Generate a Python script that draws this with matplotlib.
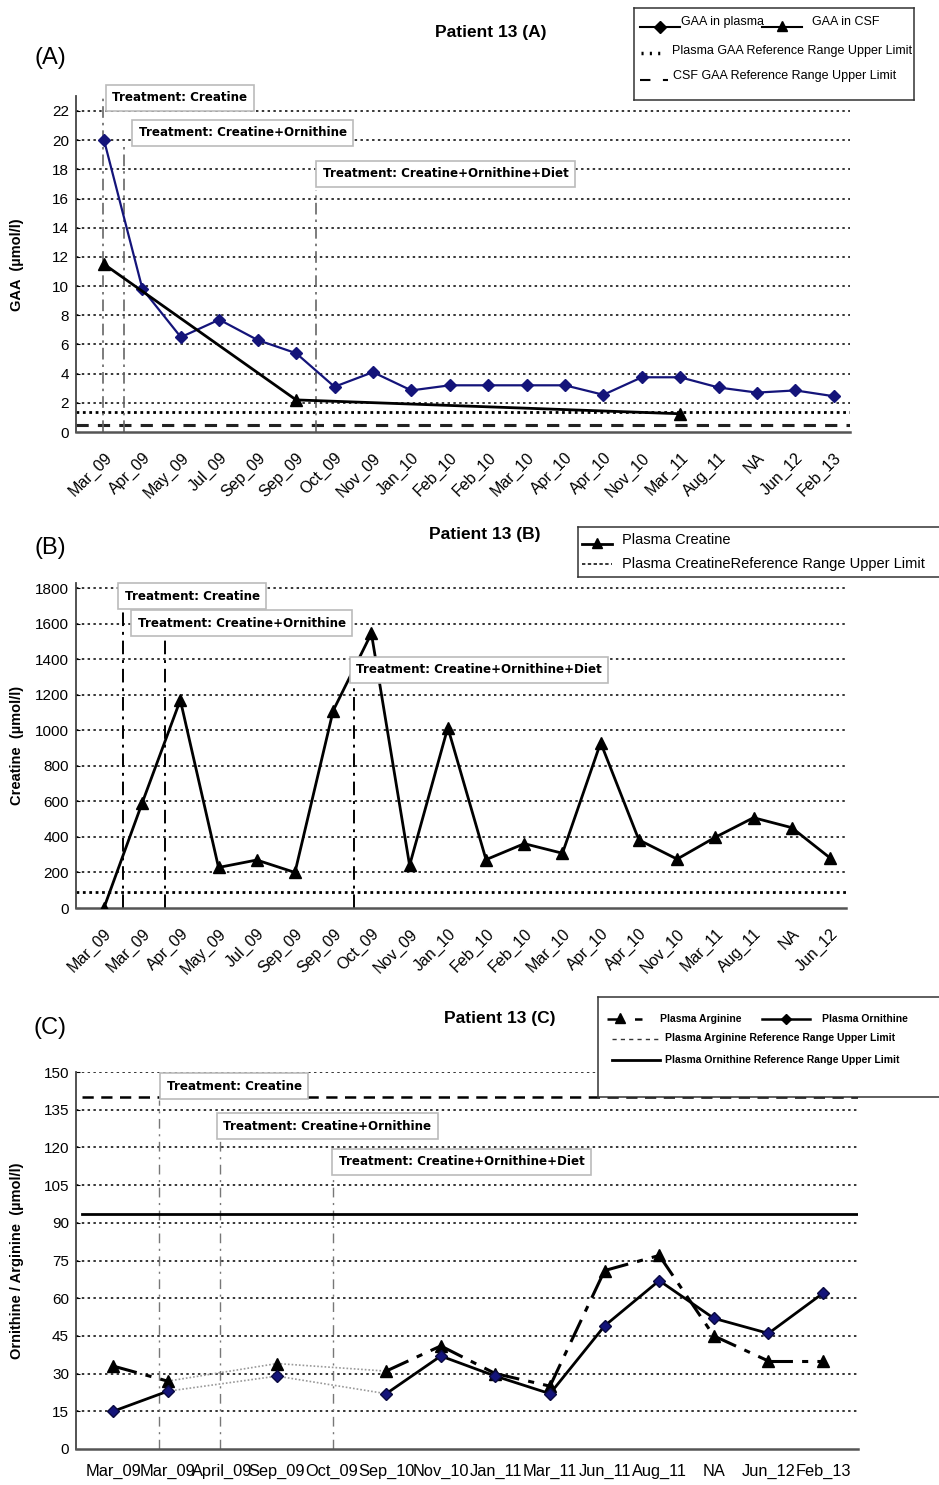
import numpy as np
import matplotlib.pyplot as plt

plt.rcParams['font.family'] = ['Liberation Sans', 'DejaVu Sans']

# ---- data -------------------------------------------------------------
a_labels = ['Mar_09', 'Apr_09', 'May_09', 'Jul_09', 'Sep_09', 'Sep_09', 'Oct_09',
            'Nov_09', 'Jan_10', 'Feb_10', 'Feb_10', 'Mar_10', 'Apr_10', 'Apr_10',
            'Nov_10', 'Mar_11', 'Aug_11', 'NA', 'Jun_12', 'Feb_13']
gaa_plasma = [20.0, 9.8, 6.5, 7.7, 6.3, 5.4, 3.1, 4.1, 2.85, 3.2, 3.2, 3.2, 3.2,
              2.55, 3.75, 3.75, 3.05, 2.7, 2.85, 2.45]
gaa_csf = [11.5, np.nan, np.nan, np.nan, np.nan, 2.2, np.nan, np.nan, np.nan, np.nan,
           np.nan, np.nan, np.nan, np.nan, np.nan, 1.25, np.nan, np.nan, np.nan, np.nan]
gaa_plasma_ref = 1.4
gaa_csf_ref = 0.45

b_labels = ['Mar_09', 'Mar_09', 'Apr_09', 'May_09', 'Jul_09', 'Sep_09', 'Sep_09',
            'Oct_09', 'Nov_09', 'Jan_10', 'Feb_10', 'Feb_10', 'Mar_10', 'Apr_10',
            'Apr_10', 'Nov_10', 'Mar_11', 'Aug_11', 'NA', 'Jun_12']
creatine = [0, 590, 1170, 228, 270, 200, 1110, 1545, 240, 1015, 272, 362, 308,
            930, 383, 275, 398, 508, 452, 282]
creatine_ref = 90

c_labels = ['Mar_09', 'Mar_09', 'April_09', 'Sep_09', 'Oct_09', 'Sep_10', 'Nov_10',
            'Jan_11', 'Mar_11', 'Jun_11', 'Aug_11', 'NA', 'Jun_12', 'Feb_13']
ornithine = [15, 23, np.nan, 29, np.nan, 22, 37, 29, 22, 49, 67, 52, 46, 62]
arginine = [33, 27, np.nan, 34, np.nan, 31, 41, 30, 25, 71, 77, 45, 35, 35]
arginine_ref = 140
ornithine_ref = 93.5

treatments = ['Treatment: Creatine', 'Treatment: Creatine+Ornithine',
              'Treatment: Creatine+Ornithine+Diet']

# ---- layout helpers ----------------------------------------------------
W, H = 939, 1485
fig = plt.figure(figsize=(W / 100, H / 100), dpi=100)


def px_axes(left, top, right, bottom):
    return fig.add_axes([left / W, 1 - bottom / H, (right - left) / W, (bottom - top) / H])


def style_axes(ax, yticks, ylim, xlim, labels, rotate, ylabel):
    ax.set_ylim(*ylim)
    ax.set_xlim(*xlim)
    ax.set_yticks(yticks)
    ax.set_xticks(range(len(labels)))
    for s in ['top', 'right']:
        ax.spines[s].set_visible(False)
    ax.spines['left'].set_color('#444444')
    ax.spines['bottom'].set_color('#555555')
    ax.spines['left'].set_linewidth(1.3)
    ax.spines['bottom'].set_linewidth(1.8)
    ax.tick_params(axis='y', direction='in', length=3, labelsize=11, pad=5)
    ax.tick_params(axis='x', length=0)
    if rotate:
        ax.set_xticklabels(labels, rotation=45, ha='right', va='top',
                           rotation_mode='anchor', fontsize=11.5)
        ax.tick_params(axis='x', pad=13)
    else:
        ax.set_xticklabels(labels, fontsize=11.8)
        ax.tick_params(axis='x', pad=11)
    for y in yticks[1:]:
        ax.axhline(y, color='black', lw=1.1, ls=(0, (1.6, 2.2)), zorder=1)
    w_px = ax.get_position().width * W
    ax.set_ylabel(ylabel, fontsize=10.5, fontweight='bold')
    ax.yaxis.set_label_coords(-52 / w_px, 0.5)


def plot_gapped(ax, x, y, main_kw, gap_kw):
    x = np.asarray(x, dtype=float)
    y = np.asarray(y, dtype=float)
    ok = ~np.isnan(y)
    xv, yv = x[ok], y[ok]
    for i in range(len(xv) - 1):
        kw = main_kw if xv[i + 1] - xv[i] == 1 else gap_kw
        ax.plot(xv[i:i + 2], yv[i:i + 2], **kw)
    return xv, yv


def treatment_marks(ax, xs, tops, tx, ty, line_kw, box_fs=8.6):
    for x, t in zip(xs, tops):
        ax.vlines(x, ax.get_ylim()[0], t, zorder=2, **line_kw)
    for label, x, y in zip(treatments, tx, ty):
        ax.text(x, y, label, fontsize=box_fs, fontweight='bold', family='DejaVu Sans',
                ha='left', va='center', zorder=6, clip_on=False,
                bbox=dict(boxstyle='square,pad=0.55', fc='white', ec='#bbbbbb', lw=1.2))


def legend_box(x0, y0, x1, y1):
    lax = fig.add_axes([x0 / W, 1 - y1 / H, (x1 - x0) / W, (y1 - y0) / H], zorder=10)
    lax.set_xlim(x0, x1)
    lax.set_ylim(y1, y0)
    lax.set_xticks([])
    lax.set_yticks([])
    for s in lax.spines.values():
        s.set_color('#333333')
        s.set_linewidth(1.1)
    return lax


navy = '#14147a'

# ---- panel A -----------------------------------------------------------
axA = px_axes(76, 96.4, 850, 432)
style_axes(axA, list(range(0, 23, 2)), (0, 23), (-0.73, 19.42), a_labels, True,
           'GAA  (\u00b5mol/l)')
xa = np.arange(len(a_labels))
axA.axhline(gaa_plasma_ref, color='black', lw=2, ls=(0, (1, 1.3)), zorder=2)
axA.axhline(gaa_csf_ref, color='#222222', lw=2.2, ls=(0, (4, 3)), zorder=2)
treatment_marks(axA, [-0.03, 0.52, 5.52], [22.9, 19.5, 16.6],
                [0.22, 0.9, 5.70], [22.9, 20.5, 17.7],
                dict(color='#666666', lw=1.2, linestyles=[(0, (7, 3, 1.5, 3))]))
axA.plot(xa, gaa_plasma, color=navy, lw=1.6, marker='D', ms=6.5, mfc=navy,
         mec=navy, zorder=4)
csf_x, csf_y = plot_gapped(axA, xa, gaa_csf,
                           dict(color='black', lw=2, zorder=4),
                           dict(color='black', lw=2, zorder=4))
axA.plot(csf_x, csf_y, ls='none', marker='^', ms=8, color='black', zorder=5)

fig.text(491 / W, 1 - 32 / H, 'Patient 13 (A)', fontsize=12.5, fontweight='bold',
         ha='center', va='center')
fig.text(50 / W, 1 - 58 / H, '(A)', fontsize=17, ha='center', va='center')

lg = legend_box(634, 8, 914, 100)
lg.plot([640, 680], [27, 27], color='black', lw=1.5)
lg.plot([660], [27], marker='D', ms=6, color='black')
lg.text(681, 22, 'GAA in plasma', fontsize=9, va='center')
lg.plot([762, 802], [27, 27], color='black', lw=1.5)
lg.plot([782], [26], marker='^', ms=7, color='black')
lg.text(812, 22, 'GAA in CSF', fontsize=9, va='center')
lg.plot([641, 664], [53, 53], color='black', lw=2.5, ls=(0, (0.6, 1.8)))
lg.text(672, 51, 'Plasma GAA Reference Range Upper Limit', fontsize=9, va='center')
lg.plot([640, 668], [80, 80], color='black', lw=1.5, ls=(0, (5, 6)))
lg.text(673, 76, 'CSF GAA Reference Range Upper Limit', fontsize=9, va='center')

# ---- panel B -----------------------------------------------------------
axB = px_axes(76, 582.7, 846, 908)
style_axes(axB, list(range(0, 1801, 200)), (0, 1830), (-0.73, 19.42), b_labels, True,
           'Creatine  (\u00b5mol/l)')
xb = np.arange(len(b_labels))
axB.axhline(creatine_ref, color='black', lw=2, ls=(0, (1, 1.3)), zorder=2)
treatment_marks(axB, [0.5, 1.6, 6.55], [1700, 1530, 1330],
                [0.54, 0.88, 6.6], [1755, 1603, 1339],
                dict(color='black', lw=1.4, linestyles=[(0, (7, 3, 1.5, 3))]))
axB.plot(xb, creatine, color='black', lw=2, marker='^', ms=8, zorder=4)

fig.text(485 / W, 1 - 535 / H, 'Patient 13 (B)', fontsize=12.5, fontweight='bold',
         ha='center', va='center')
fig.text(50 / W, 1 - 548 / H, '(B)', fontsize=17, ha='center', va='center')

lg = legend_box(578, 527, 950, 577)
lg.plot([582, 612], [544, 544], color='black', lw=2)
lg.plot([597], [543], marker='^', ms=7, color='black')
lg.text(622, 540, 'Plasma Creatine', fontsize=10.5, va='center')
lg.plot([582, 612], [564, 564], color='black', lw=1.1, ls=(0, (2.2, 1.6)))
lg.text(622, 564, 'Plasma CreatineReference Range Upper Limit', fontsize=10.5, va='center')

# ---- panel C -----------------------------------------------------------
axC = px_axes(76, 1072, 858, 1449)
style_axes(axC, list(range(0, 151, 15)), (0, 150), (-0.68, 13.64), c_labels, False,
           'Ornithine / Arginine  (\u00b5mol/l)')
xc = np.arange(len(c_labels))
axC.axhline(arginine_ref, xmin=0.008, color='black', lw=1.8, ls=(0, (4.5, 3)), zorder=3)
axC.axhline(ornithine_ref, xmin=0.008, color='black', lw=2.0, zorder=3)
treatment_marks(axC, [0.84, 1.96, 4.03], [139, 123, 108],
                [0.98, 2.02, 4.13], [144.4, 128.5, 114.2],
                dict(color='#777777', lw=1.0, linestyles=[(0, (7, 4, 1.5, 4))]))
gap = dict(color='#999999', lw=1.2, ls=(0, (1, 1.2)), zorder=3)
ax_, ay_ = plot_gapped(axC, xc, arginine,
                       dict(color='black', lw=2.2, ls=(0, (8, 3, 2, 3)), zorder=4), gap)
axC.plot(ax_, ay_, ls='none', marker='^', ms=8, color='black', zorder=5)
ox_, oy_ = plot_gapped(axC, xc, ornithine, dict(color='black', lw=2, zorder=4), gap)
axC.plot(ox_, oy_, ls='none', marker='D', ms=6, mfc=navy, mec='#0a0a40', zorder=5)

fig.text(500 / W, 1 - 1019 / H, 'Patient 13 (C)', fontsize=12.5, fontweight='bold',
         ha='center', va='center')
fig.text(50 / W, 1 - 1028 / H, '(C)', fontsize=17, ha='center', va='center')

lg = legend_box(598, 997, 950, 1097)
lg.plot([607, 642], [1019, 1019], color='black', lw=1.8, ls=(0, (6, 5)))
lg.plot([620], [1018], marker='^', ms=6.5, color='black')
lg.text(660, 1019, 'Plasma Arginine', fontsize=7.5, fontweight='bold', va='center')
lg.plot([762, 810], [1019, 1019], color='black', lw=1.8)
lg.plot([786], [1019], marker='D', ms=5.5, color='black')
lg.text(822, 1019, 'Plasma Ornithine', fontsize=7.5, fontweight='bold', va='center')
lg.plot([612, 660], [1039, 1039], color='#333333', lw=1, ls=(0, (3, 3)))
lg.text(665, 1038, 'Plasma Arginine Reference Range Upper Limit', fontsize=7.5,
        fontweight='bold', va='center')
lg.plot([612, 660], [1060, 1060], color='black', lw=2)
lg.text(665, 1060, 'Plasma Ornithine Reference Range Upper Limit', fontsize=7.5,
        fontweight='bold', va='center')

fig.savefig('out.png', dpi=100)
